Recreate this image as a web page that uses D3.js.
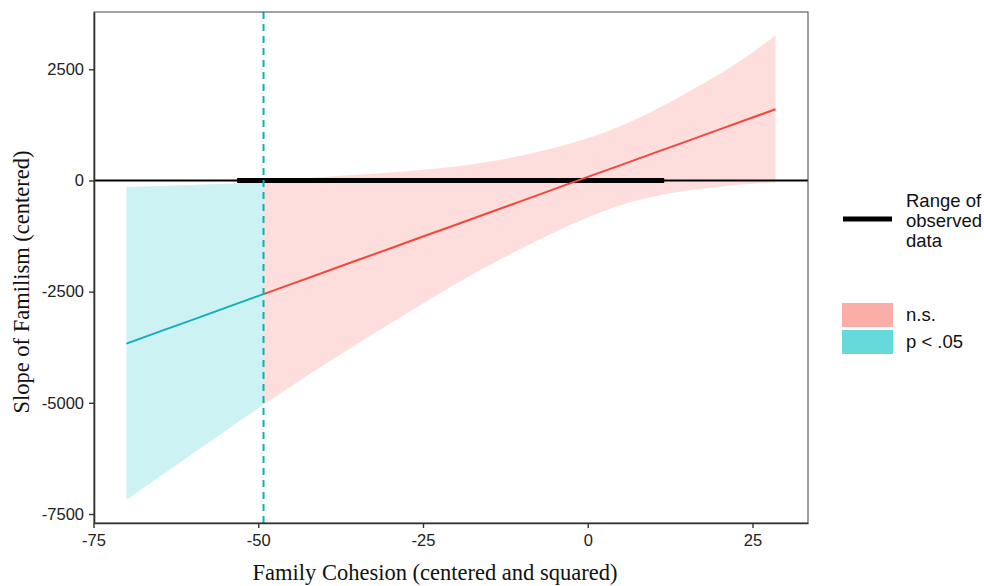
<!DOCTYPE html>
<html>
<head>
<meta charset="utf-8">
<script src="https://cdn.jsdelivr.net/npm/d3@7"></script>
<style>
  body { margin: 0; background: #fff; }
  .tick text { font-family: "Liberation Sans", Arial, sans-serif; font-size: 16.5px; fill: #222; }
  .title { font-family: "Liberation Serif", "Times New Roman", serif; font-size: 22.5px; fill: #111; }
  .leg { font-family: "Liberation Sans", Arial, sans-serif; font-size: 18.5px; fill: #111; }
</style>
</head>
<body>
<script>
// values
var xs    = [-70, -65, -60, -55, -49.2, -45, -40, -35, -30, -25, -20, -15, -10, -5, 0, 5, 10, 15, 20, 25, 28.5];
var est   = [-3670, -3400, -3135, -2865, -2555, -2330, -2065, -1795, -1530, -1260, -995, -725, -460, -190, 80, 345, 615, 880, 1150, 1415, 1600];
var upper = [-150, -125, -100, -75, -20, 36, 78, 126, 180, 240, 315, 420, 560, 735, 950, 1225, 1570, 1965, 2395, 2880, 3266];
var lower = [-7180, -6665, -6150, -5635, -5040, -4625, -4145, -3680, -3215, -2765, -2325, -1910, -1525, -1160, -830, -555, -363, -225, -140, -75, -45];
var jnPoint = -49.2;
var observedRange = [-53.2, 11.6];
var xTicks = [-75, -50, -25, 0, 25];
var yTicks = [-7500, -5000, -2500, 0, 2500];

var margin = {top: 12, right: 176, bottom: 63, left: 94},
    width = 984 - margin.left - margin.right,
    height = 586 - margin.top - margin.bottom;

var red = "#F8766D", teal = "#00BFC4";

var svg = d3.select("body").append("svg")
    .attr("width", 984)
    .attr("height", 586);
var g = svg.append("g")
    .attr("transform", "translate(" + margin.left + "," + margin.top + ")");

var rows = xs.map(function(x, i) {
  return {x: x, est: est[i], lo: lower[i], hi: upper[i]};
});

// ggplot style 5% expansion
var xr = d3.extent(xs), yr = [d3.min(lower), d3.max(upper)];
var xp = (xr[1] - xr[0]) * 0.05, yp = (yr[1] - yr[0]) * 0.05;
var x = d3.scaleLinear().domain([xr[0] - xp, xr[1] + xp]).range([0, width]);
var y = d3.scaleLinear().domain([yr[0] - yp, yr[1] + yp]).range([height, 0]);

var sig = rows.filter(function(d) { return d.x <= jnPoint; });
var ns = rows.filter(function(d) { return d.x >= jnPoint; });

var area = d3.area()
    .curve(d3.curveMonotoneX)
    .x(function(d) { return x(d.x); })
    .y0(function(d) { return y(d.lo); })
    .y1(function(d) { return y(d.hi); });
var line = d3.line()
    .x(function(d) { return x(d.x); })
    .y(function(d) { return y(d.est); });

g.append("path").datum(sig).attr("d", area).attr("fill", teal).attr("fill-opacity", 0.2);
g.append("path").datum(ns).attr("d", area).attr("fill", red).attr("fill-opacity", 0.24);

// zero line and observed range
g.append("line")
    .attr("x1", 0).attr("x2", width)
    .attr("y1", y(0)).attr("y2", y(0))
    .attr("stroke", "#000").attr("stroke-width", 2);
g.append("line")
    .attr("x1", x(observedRange[0])).attr("x2", x(observedRange[1]))
    .attr("y1", y(0)).attr("y2", y(0))
    .attr("stroke", "#000").attr("stroke-width", 5);

g.append("path").datum(sig).attr("d", line)
    .attr("fill", "none").attr("stroke", "#14AEB5").attr("stroke-width", 2);
g.append("path").datum(ns).attr("d", line)
    .attr("fill", "none").attr("stroke", "#F3473D").attr("stroke-width", 2);

// Johnson-Neyman boundary
g.append("line")
    .attr("x1", x(jnPoint)).attr("x2", x(jnPoint))
    .attr("y1", 0).attr("y2", height)
    .attr("stroke", "#14AEB5").attr("stroke-width", 2)
    .attr("stroke-dasharray", "7,5");

// panel border
g.append("rect")
    .attr("width", width).attr("height", height)
    .attr("fill", "none").attr("stroke", "#444").attr("stroke-width", 1);

// axes (plain hyphen minus, no thousands comma)
var fmt = function(d) { return String(d); };
var xAxis = g.append("g")
    .attr("transform", "translate(0," + height + ")")
    .call(d3.axisBottom(x).tickValues(xTicks).tickFormat(fmt)
      .tickSizeInner(5).tickSizeOuter(0).tickPadding(6));
var yAxis = g.append("g")
    .call(d3.axisLeft(y).tickValues(yTicks).tickFormat(fmt)
      .tickSizeInner(5).tickSizeOuter(0).tickPadding(5));
[xAxis, yAxis].forEach(function(a) {
  a.select(".domain").attr("stroke", "#333").attr("stroke-width", 1.6);
  a.selectAll(".tick line").attr("stroke", "#333").attr("stroke-width", 1.4);
});

// axis titles
svg.append("text")
    .attr("class", "title")
    .attr("x", 435).attr("y", 580)
    .attr("text-anchor", "middle")
    .text("Family Cohesion (centered and squared)");
svg.append("text")
    .attr("class", "title")
    .attr("transform", "translate(29,282) rotate(-90)")
    .attr("text-anchor", "middle")
    .text("Slope of Familism (centered)");

// legend
var leg = svg.append("g");
leg.append("line")
    .attr("x1", 843).attr("x2", 892).attr("y1", 219).attr("y2", 219)
    .attr("stroke", "#000").attr("stroke-width", 5);
["Range of", "observed", "data"].forEach(function(t, i) {
  leg.append("text").attr("class", "leg")
      .attr("x", 906).attr("y", 207 + i * 20)
      .text(t);
});
var keys = [{label: "n.s.", color: red}, {label: "p < .05", color: teal}];
keys.forEach(function(k, i) {
  leg.append("rect")
      .attr("x", 842).attr("y", 303 + i * 27)
      .attr("width", 51).attr("height", 24)
      .attr("fill", k.color).attr("fill-opacity", 0.6);
  leg.append("text").attr("class", "leg")
      .attr("x", 906).attr("y", 321 + i * 27)
      .text(k.label);
});
</script>
</body>
</html>
